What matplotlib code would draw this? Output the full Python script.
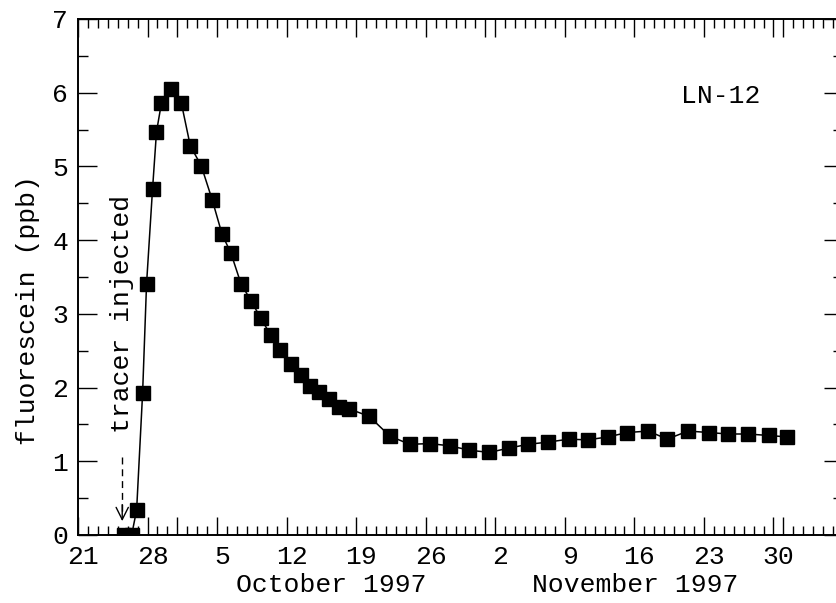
import numpy as np
import matplotlib.pyplot as plt
from matplotlib.ticker import FixedLocator, MultipleLocator, FuncFormatter
import matplotlib.transforms as mtransforms

plt.rcParams['font.family'] = ['Liberation Mono', 'DejaVu Sans Mono']
plt.rcParams['font.size'] = 19

# sample times, in days counted from 0 September 1997 (Oct 1 = 31, Nov 1 = 62, Dec 1 = 92)
days = [25.6, 26.4, 26.9, 27.5, 27.9, 28.5, 28.9, 29.4, 30.4, 31.4,
        32.3, 33.4, 34.5, 35.5, 36.4, 37.4, 38.4, 39.4, 40.4, 41.3,
        42.4, 43.4, 44.4, 45.3, 46.3, 47.3, 48.3, 50.3, 52.4, 54.4,
        56.4, 58.4, 60.4, 62.4, 64.4, 66.3, 68.3, 70.4, 72.3, 74.3,
        76.3, 78.4, 80.3, 82.4, 84.5, 86.4, 88.4, 90.5, 92.4]
# fluorescein concentration (ppb)
conc = [0.0, 0.0, 0.34, 1.92, 3.41, 4.69, 5.47, 5.86, 6.05, 5.86,
        5.28, 5.01, 4.55, 4.08, 3.82, 3.41, 3.18, 2.94, 2.71, 2.51,
        2.32, 2.17, 2.02, 1.94, 1.85, 1.74, 1.71, 1.61, 1.34, 1.23,
        1.24, 1.21, 1.15, 1.12, 1.18, 1.23, 1.26, 1.30, 1.29, 1.33,
        1.39, 1.41, 1.30, 1.41, 1.39, 1.37, 1.37, 1.35, 1.33]

week_ticks = [21, 28, 35, 42, 49, 56, 63, 70, 77, 84, 91]
week_labels = ['21', '28', '5', '12', '19', '26', '2', '9', '16', '23', '30']
month_starts = [31, 62, 92]
injection_day = 25.45

fig = plt.figure(figsize=(8.37, 6.03), dpi=100)
ax = fig.add_axes([0.0932, 0.1128, 0.914, 0.8557])

ax.plot(days, conc, color='black', lw=1.1, marker='s', ms=10,
        mfc='black', mec='black')

ax.set_xlim(21, 98)
ax.set_ylim(0, 7)

# x ticks: every day (minor), every week (labelled), month starts (long)
major_locs = sorted(week_ticks + month_starts)
lab = dict(zip(week_ticks, week_labels))
ax.xaxis.set_major_locator(FixedLocator(major_locs))
ax.xaxis.set_major_formatter(FuncFormatter(lambda v, p: lab.get(int(round(v)), '')))
ax.xaxis.set_minor_locator(MultipleLocator(1))
ax.yaxis.set_major_locator(MultipleLocator(1))
ax.yaxis.set_minor_locator(MultipleLocator(0.5))

ax.tick_params(which='both', direction='in', top=True, right=True, width=1.0)
ax.tick_params(axis='x', which='major', length=13, pad=7)
ax.tick_params(axis='x', which='minor', length=6.5)
ax.tick_params(axis='y', which='major', length=14, pad=7)
ax.tick_params(axis='y', which='minor', length=7)

for t in ax.xaxis.get_major_ticks():
    if int(round(t.get_loc())) in month_starts:
        t.tick1line.set_markersize(20)
        t.tick2line.set_markersize(20)

shift = mtransforms.ScaledTranslation(5 / 100, 0, fig.dpi_scale_trans)
for t in ax.get_xticklabels():
    t.set_transform(t.get_transform() + shift)

for s in ax.spines.values():
    s.set_linewidth(1.4)

# month captions under the day numbers
blend = mtransforms.blended_transform_factory(ax.transData, ax.transAxes)
ax.text(46.5, -0.097, 'October 1997', transform=blend, ha='center', va='center')
ax.text(77.1, -0.097, 'November 1997', transform=blend, ha='center', va='center')

ax.text(-0.065, 0.436, 'fluorescein (ppb)', transform=ax.transAxes,
        rotation=90, ha='center', va='center')

ax.text(85.7, 5.95, 'LN-12', ha='center', va='center')

# injection marker
ax.text(injection_day, 1.38, 'tracer injected', rotation=90,
        ha='center', va='bottom')
ax.plot([injection_day, injection_day], [1.06, 0.3], color='black',
        lw=1.0, ls=(0, (5, 3.5)))
ax.annotate('', xy=(injection_day, 0.15), xytext=(injection_day, 0.45),
            arrowprops=dict(arrowstyle='->', lw=1.0, color='black',
                            mutation_scale=22))

fig.savefig('out.png', dpi=100)
